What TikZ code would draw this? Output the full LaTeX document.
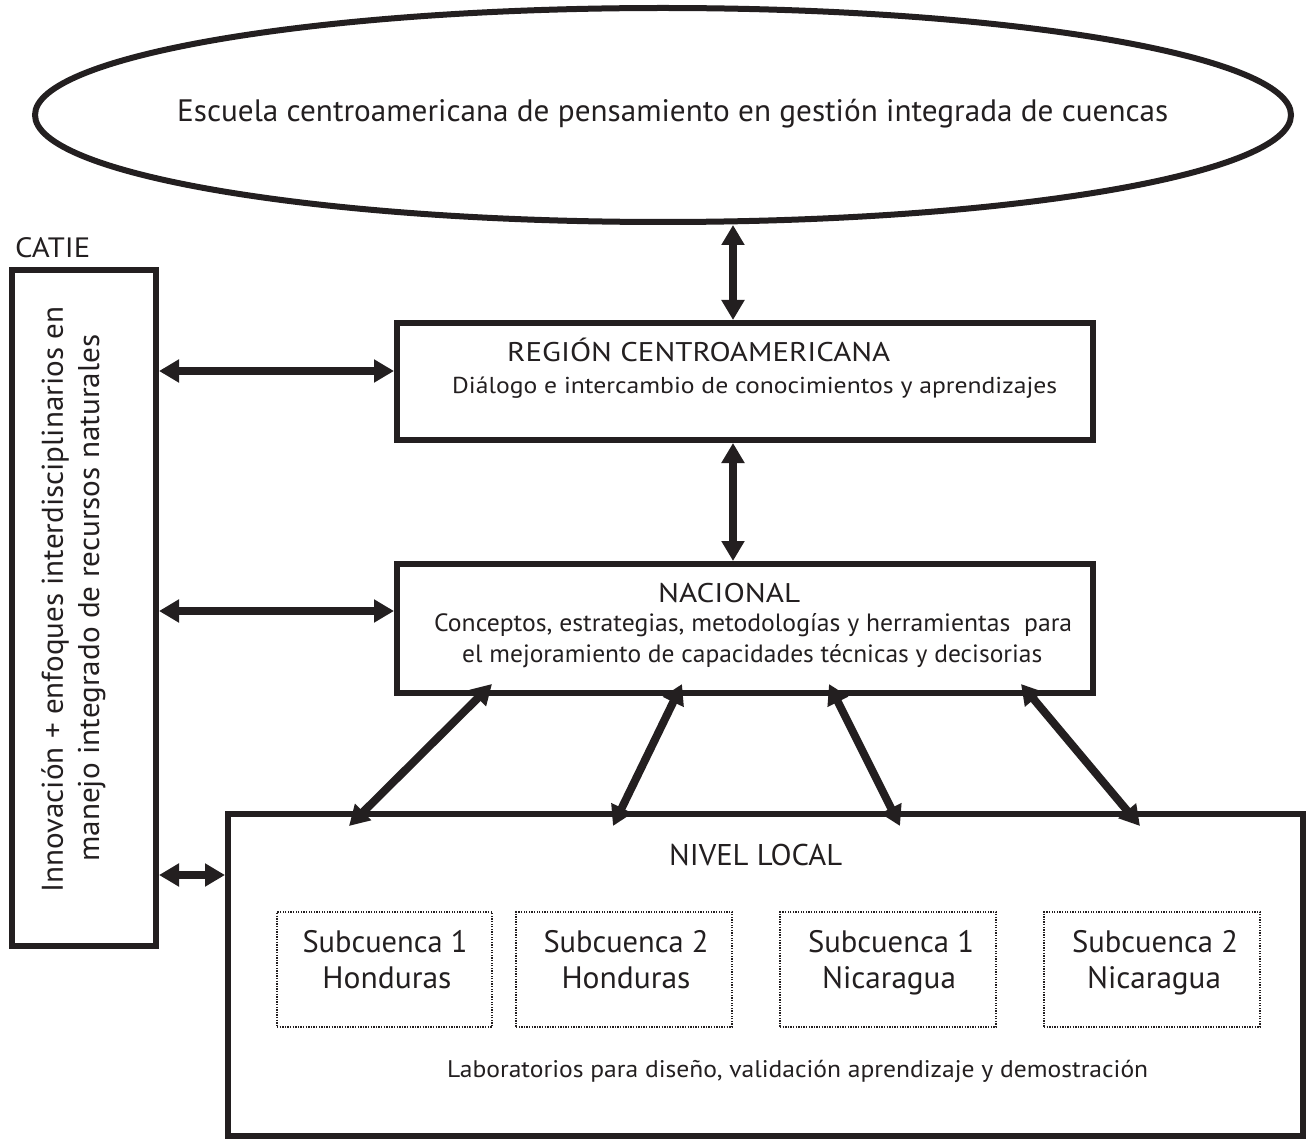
\documentclass[tikz,border=0pt]{standalone}
\usepackage{fontspec}
\setmainfont{PT Sans}
\usepackage{graphicx}
\usetikzlibrary{arrows.meta,shapes.geometric}
\definecolor{ink}{HTML}{231F20}
\newcommand\fitw[2]{\resizebox{#1pt}{\height}{#2}}
\newcommand\fs[1]{\fontsize{#1}{#1}\selectfont}
\begin{document}
\begin{tikzpicture}[x=1pt,y=-1pt,
  box/.style={draw=ink, line width=6pt, rectangle, inner sep=0pt},
  sub/.style={draw=ink, line width=1.3pt, dash pattern=on 1.3pt off 1.3pt, rectangle, inner sep=0pt},
  txt/.style={inner sep=0pt, anchor=base west, text=ink},
  ctr/.style={inner sep=0pt, anchor=base, text=ink},
  dbl/.style={draw=ink, line width=8pt, {Triangle[length=20pt,width=22pt]}-{Triangle[length=20pt,width=22pt]}},
]
\useasboundingbox (0,0) rectangle (1309,1139);
\fill[white] (0,0) rectangle (1309,1139);

% shapes
\node[draw=ink, line width=6pt, ellipse, inner sep=0pt, minimum width=1256pt, minimum height=214pt] (ell) at (663,115) {};
\node[box, minimum width=144pt, minimum height=676pt] (catie) at (84,608) {};
\node[box, minimum width=696pt, minimum height=117pt] (reg) at (745,381.5) {};
\node[box, minimum width=696pt, minimum height=129pt] (nac) at (745,628.5) {};
\node[box, minimum width=1075pt, minimum height=321.5pt] (loc) at (765.5,974.75) {};

\node[sub, minimum width=215pt, minimum height=115pt] (s1) at (384.5,969.5) {};
\node[sub, minimum width=216pt, minimum height=115pt] (s2) at (624,969.5) {};
\node[sub, minimum width=216pt, minimum height=115pt] (s3) at (888,969.5) {};
\node[sub, minimum width=216pt, minimum height=115pt] (s4) at (1152,969.5) {};

% texts
\node[txt] (t0) at (177,122) {\fs{31}\fitw{991}{Escuela centroamericana de pensamiento en gestión integrada de cuencas}};
\node[txt] (t1) at (507,362) {\fs{27}\fitw{383}{REGIÓN CENTROAMERICANA}};
\node[txt] (t2) at (452,393) {\fs{23}\fitw{605}{Diálogo e intercambio de conocimientos y aprendizajes}};
\node[txt] (t3) at (658,602) {\fs{27}\fitw{142}{NACIONAL}};
\node[txt] (t4) at (434,631) {\fs{25}\fitw{638}{Conceptos, estrategias, metodologías y herramientas\ \ para}};
\node[txt] (t5) at (462,662) {\fs{25}\fitw{580}{el mejoramiento de capacidades técnicas y decisorias}};
\node[txt] (t6) at (669,865) {\fs{30}\fitw{173}{NIVEL LOCAL}};
\node[txt] (t7) at (447,1077) {\fs{24}\fitw{701}{Laboratorios para diseño, validación aprendizaje y demostración}};
\node[txt] (t8) at (15,258) {\fs{28}\fitw{75}{CATIE}};
\node[txt, rotate=90] (t9) at (63,893) {\fs{30}\fitw{586}{Innovación + enfoques interdisciplinarios en}};
\node[txt, rotate=90] (t10) at (99,862) {\fs{30}\fitw{527}{manejo integrado de recursos naturales}};

\node[ctr] (a1) at (385,952) {\fs{31}\fitw{165}{Subcuenca 1}};
\node[ctr] (b1) at (387,988) {\fs{31}\fitw{129}{Honduras}};
\node[ctr] (a2) at (626,952) {\fs{31}\fitw{165}{Subcuenca 2}};
\node[ctr] (b2) at (626,988) {\fs{31}\fitw{129}{Honduras}};
\node[ctr] (a3) at (891,952) {\fs{31}\fitw{166}{Subcuenca 1}};
\node[ctr] (b3) at (889,988) {\fs{31}\fitw{134}{Nicaragua}};
\node[ctr] (a4) at (1155,952) {\fs{31}\fitw{166}{Subcuenca 2}};
\node[ctr] (b4) at (1154,988) {\fs{31}\fitw{134}{Nicaragua}};

% connectors
\draw[dbl] ([xshift=70pt]ell.south) -- ([xshift=-12pt]reg.north);
\draw[dbl] ([xshift=-12pt]reg.south) -- ([xshift=-12pt]nac.north);

\coordinate (r1) at ([yshift=10.5pt]reg.west);
\coordinate (r2) at ([yshift=17.5pt]nac.west);
\coordinate (r3) at ([yshift=99.75pt]loc.west);
\draw[dbl] (r1 -| catie.east) -- (r1);
\draw[dbl] (r2 -| catie.east) -- (r2);
\draw[dbl] (r3 -| catie.east) -- (r3);

\coordinate (n1) at (492,684);
\coordinate (n2) at (682,684);
\coordinate (n3) at (829,684);
\coordinate (n4) at (1021,684);
\coordinate (l1) at (349,826);
\coordinate (l2) at (613,826);
\coordinate (l3) at (900,826);
\coordinate (l4) at (1140,826);
\draw[dbl] (n1) -- (l1);
\draw[dbl] (n2) -- (l2);
\draw[dbl] (n3) -- (l3);
\draw[dbl] (n4) -- (l4);
\end{tikzpicture}
\end{document}
